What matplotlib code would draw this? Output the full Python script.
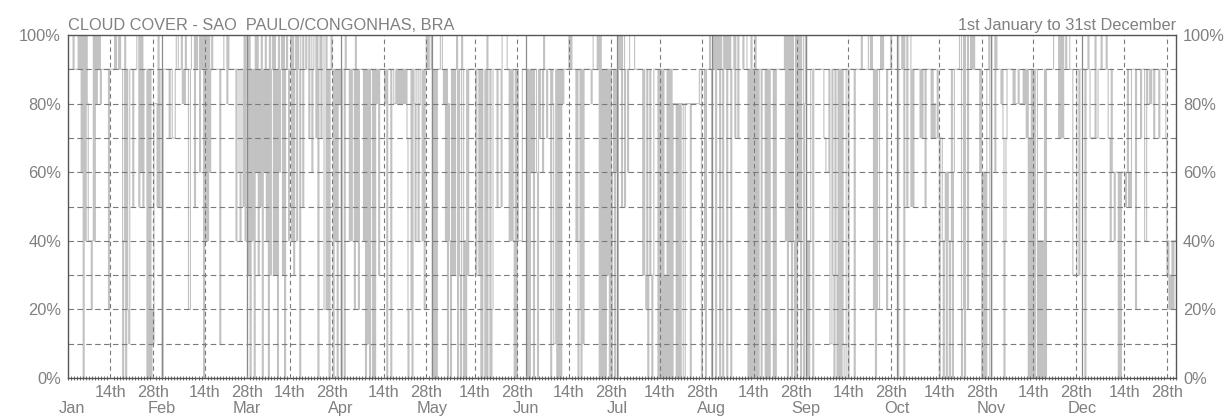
import numpy as np
import matplotlib
matplotlib.use("Agg")
import matplotlib.pyplot as plt
import matplotlib.transforms as mtransforms

plt.rcParams['font.family'] = ['Liberation Sans', 'DejaVu Sans']

# cloud cover in tenths, three readings per day
jan = [9,9,9, 9,9,10, 9,9,9, 9,10,9, 10,6,10, 0,10,4, 10,8,4, 4,4,2, 4,10,4, 10,8,10,
       9,10,8, 9,9,9, 9,9,9, 9,2,9, 9,9,9, 9,10,9, 10,10,9, 10,9,9, 0,4,10, 0,9,2,
       1,9,9, 9,5,9, 9,9,10, 10,5,10, 6,10,5, 9,9,9, 0,9,0, 9,0,2, 1,8,8, 8,5,10, 5,9,9]
feb = [0,9,9, 9,9,9, 9,7,9, 9,7,7, 7,9,10, 10,9,9, 9,10,8, 9,8,10, 9,9,2, 2,9,10,
       10,10,5, 10,9,10, 10,6,10, 9,10,0, 10,4,10, 4,10,6, 9,10,9, 9,9,9, 9,9,9, 1,9,9,
       9,10,10, 10,8,10, 9,9,9, 9,9,9, 9,4,9, 9,6,4, 9,9,5, 10,4,10]
mar = [10,3,10, 0,9,4, 9,0,10, 6,10,3, 9,5,10, 0,9,6, 10,4,9, 0,10,3, 9,10,3, 10,3,9,
       0,10,6, 9,10,3, 10,0,9, 10,9,4, 9,10,4, 10,3,9, 10,4,10, 9,0,10, 10,5,10, 10,9,10,
       10,7,10, 10,6,9, 10,10,7, 10,0,9, 10,7,10, 10,2,2, 10,2,9, 0,9,10, 9,0,9, 4,9,0, 9,8,9]
apr = [0,9,9, 0,10,9, 9,9,4, 9,4,9, 9,2,10, 4,9,2, 9,9,9, 9,4,9, 0,9,1, 9,0,9,
       9,0,9, 0,9,8, 9,3,9, 9,9,9, 9,8,9, 0,9,9, 9,0,9, 9,8,8, 9,8,9, 8,9,8,
       9,8,9, 8,9,7, 0,2,2, 9,0,9, 8,4,9, 9,4,8, 9,9,4, 9,2,9, 10,9,10, 9,9,10]
may = [0,9,0, 9,0,9, 9,9,10, 10,9,8, 9,4,9, 0,8,4, 0,9,3, 9,3,9, 10,0,9, 3,0,10,
       9,0,4, 0,9,3, 9,9,9, 9,9,9, 9,3,9, 9,3,9, 0,9,0, 0,9,0, 10,0,0, 9,0,2,
       9,9,9, 9,5,9, 9,9,5, 10,10,10, 10,10,9, 9,4,9, 4,9,4, 0,9,0, 9,4,4, 4,4,9, 9,9,9]
jun = [9,0,9, 0,9,6, 9,0,9, 9,6,0, 9,7,9, 9,6,10, 9,9,7, 9,9,9, 0,9,8, 1,1,9,
       0,9,0, 9,0,9, 8,9,9, 9,9,9, 10,9,10, 9,9,9, 9,4,9, 0,2,9, 0,9,1, 9,9,9,
       9,9,9, 9,8,9, 10,10,10, 10,9,10, 0,10,0, 9,0,9, 0,9,3, 9,0,9, 0,6,9, 0,9,6]
jul = [0,10,9, 10,5,10, 10,5,9, 9,6,9, 10,10,10, 10,10,9, 9,9,9, 9,9,9, 9,3,9, 3,2,9,
       0,3,9, 3,0,3, 9,9,9, 9,0,9, 0,9,0, 9,0,3, 0,9,0, 9,0,9, 0,8,8, 8,0,8,
       0,8,0, 8,8,0, 0,8,8, 8,8,8, 0,8,8, 8,8,8, 8,8,8, 9,9,0, 2,2,9, 0,9,9, 9,10,9]
aug = [0,10,9, 10,0,10, 9,10,0, 10,9,0, 10,9,10, 0,10,9, 10,0,9, 9,10,7, 10,10,7, 10,10,10,
       10,9,10, 10,10,9, 0,9,0, 10,0,9, 0,10,0, 9,0,9, 9,0,9, 9,9,0, 9,0,9, 0,9,9,
       9,0,9, 0,9,9, 9,9,9, 9,9,9, 10,4,10, 0,10,4, 10,0,10, 4,0,10, 0,10,4, 10,0,10, 10,0,8]
sep = [10,0,4, 0,4,9, 9,0,9, 9,9,9, 9,9,9, 9,9,9, 7,7,6, 6,6,9, 1,1,9, 3,0,9,
       3,0,9, 0,9,0, 9,1,0, 0,9,9, 0,9,9, 9,9,9, 0,9,9, 9,9,9, 9,10,9, 9,9,9,
       9,9,10, 10,9,10, 9,2,9, 0,9,2, 2,9,10, 9,10,9, 9,9,2, 9,9,9, 10,9,9, 9,9,9]
oct_ = [9,0,10, 10,10,9, 10,0,10, 10,5,10, 10,10,5, 9,5,9, 9,9,9, 9,9,7, 9,7,9, 9,5,9,
        9,9,9, 9,7,9, 7,8,7, 7,9,7, 0,7,7, 4,0,4, 6,0,6, 4,0,4, 9,0,6, 9,9,9,
        9,9,10, 10,0,2, 10,0,10, 10,2,10, 10,9,10, 9,10,9, 9,9,9, 9,6,9, 0,6,0, 6,0,9, 9,10,0]
nov = [0,10,10, 10,6,10, 9,9,9, 9,8,9, 7,0,4, 7,9,9, 9,9,9, 9,8,9, 8,8,8, 9,8,8,
       8,8,9, 8,9,7, 9,0,7, 0,9,0, 9,0,9, 9,0,4, 0,4,0, 4,0,9, 0,9,9, 9,9,9,
       9,9,10, 10,10,10, 10,7,10, 7,10,7, 10,10,9, 10,10,10, 9,9,9, 3,3,3, 3,9,9, 3,9,9]
dec = [9,9,9, 0,9,9, 10,9,7, 7,7,7, 7,10,7, 7,9,9, 9,10,9, 9,9,9, 10,9,7, 7,4,9,
       6,6,4, 6,6,6, 0,6,0, 6,6,6, 6,5,6, 9,5,6, 5,9,9, 9,9,2, 9,9,9, 9,7,9,
       9,9,4, 4,9,8, 8,9,8, 9,9,7, 9,9,9, 9,7,9, 9,9,9, 9,9,7, 3,4,2, 3,2,4, 2,4,4]

months = ["Jan", "Feb", "Mar", "Apr", "May", "Jun", "Jul", "Aug", "Sep", "Oct", "Nov", "Dec"]
month_days = [31, 28, 31, 30, 31, 30, 31, 31, 30, 31, 30, 31]
month_data = [jan, feb, mar, apr, may, jun, jul, aug, sep, oct_, nov, dec]
title_left = "CLOUD COVER - SAO  PAULO/CONGONHAS, BRA"
title_right = "1st January to 31st December"

starts = np.concatenate([[0], np.cumsum(month_days)[:-1]])

xs = []
ys = []
for s, nd, vals in zip(starts, month_days, month_data):
    vals = np.array(vals, float) * 10
    xs.append(s + np.arange(len(vals)) * nd / len(vals))
    ys.append(vals)
x = np.concatenate(xs + [[365]])
y = np.concatenate(ys)
y = np.append(y, y[-1])

fig = plt.figure(figsize=(12.27, 4.17), dpi=100)
ax = fig.add_axes([68/1227, 39/417, 1108/1227, 343/417])

ax.step(x, y, where='post', color='#c2c2c2', lw=0.8, zorder=1)

gcol = '#7a7a7a'
for lev in range(10, 100, 10):
    ax.axhline(lev, color=gcol, lw=0.8, dashes=(5, 3), zorder=2)
for s in starts:
    if s > 0:
        ax.axvline(s, color='#8a8a8a', lw=0.9, zorder=2)
    for d in (14, 28):
        ax.axvline(s + d, color=gcol, lw=0.8, dashes=(4, 3), zorder=2)

ax.set_xlim(0, 365)
ax.set_ylim(0, 100)

for sp in ax.spines.values():
    sp.set_color('#555555')
    sp.set_linewidth(1.0)

tcol = '#808080'
fs = 11.8
ax.set_yticks(range(0, 101, 20))
ax.set_yticklabels([f"{v}%" for v in range(0, 101, 20)])
ax.tick_params(axis='y', length=0, labelsize=fs, labelcolor=tcol,
               labelright=True, pad=5)

xt = []
xl = []
for s in starts:
    xt += [s + 14, s + 28]
    xl += ["14th", "28th"]
ax.set_xticks(xt)
ax.set_xticklabels(xl)
ax.tick_params(axis='x', which='major', length=0, labelsize=fs, labelcolor=tcol, pad=5)
ax.set_xticks(np.arange(0, 366), minor=True)
ax.tick_params(axis='x', which='minor', length=3, width=0.6, color='#555555',
               direction='inout')

trans = mtransforms.blended_transform_factory(ax.transData, ax.transAxes)
for i, (s, m) in enumerate(zip(starts, months)):
    xm = s if i > 0 else 1.3
    ax.text(xm, -0.088, m, transform=trans, ha='center', va='center',
            fontsize=fs, color=tcol)

ax.text(0, 1.005, title_left, transform=ax.transAxes, ha='left', va='bottom',
        fontsize=fs, color=tcol)
ax.text(1, 1.005, title_right, transform=ax.transAxes, ha='right', va='bottom',
        fontsize=fs, color=tcol)

fig.savefig("out.png", dpi=100)
